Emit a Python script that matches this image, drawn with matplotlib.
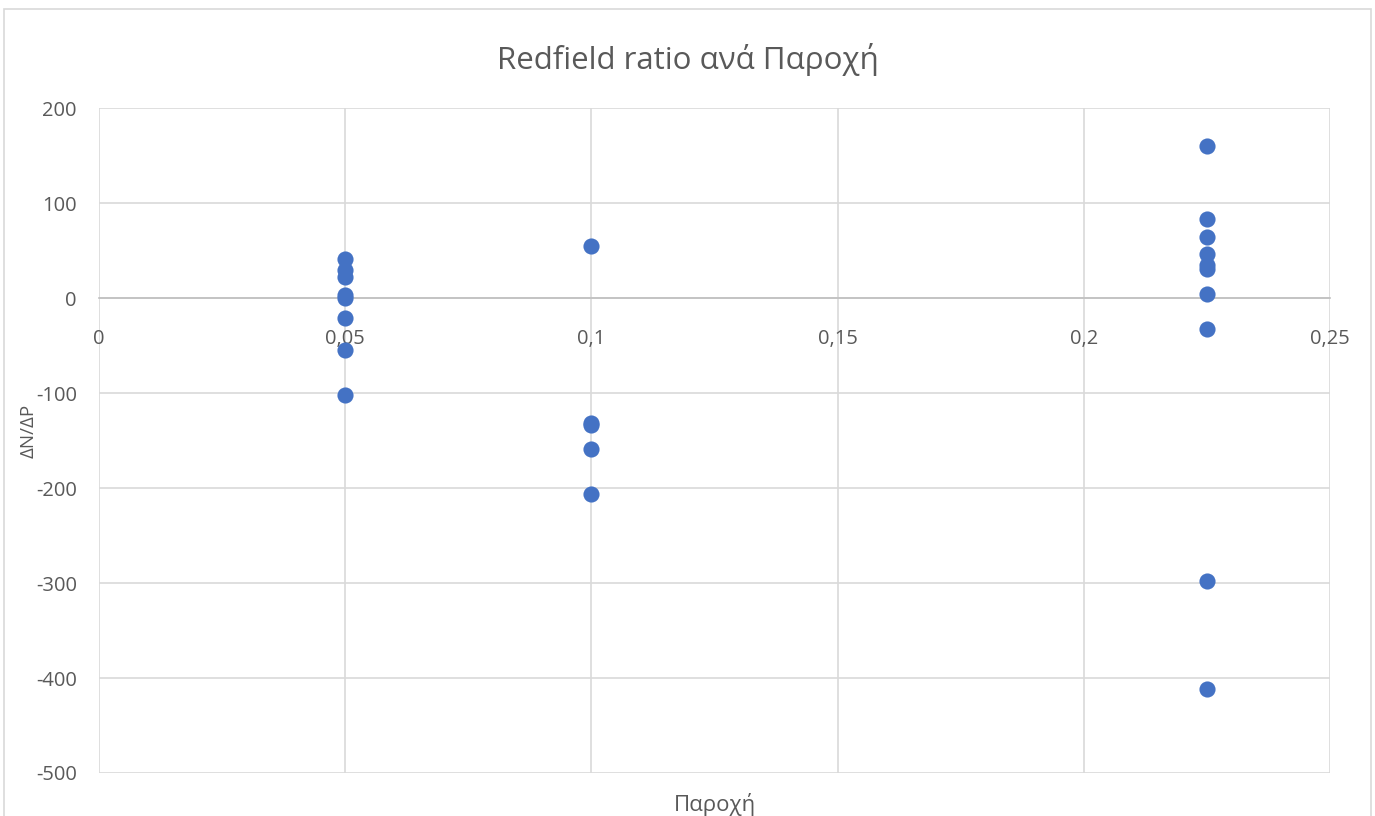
import matplotlib.pyplot as plt
from matplotlib.patches import Rectangle
from matplotlib.ticker import FuncFormatter

plt.rcParams['font.family'] = ['Open Sans', 'DejaVu Sans']

# Παροχή (x) και ΔN/ΔP (y) ανά σημείο δειγματοληψίας
flow_005 = [0.05] * 8
ratio_005 = [41, 30, 22, 3, 0, -21, -55, -102]

flow_010 = [0.1] * 5
ratio_010 = [55, -132, -134, -159, -206]

flow_0225 = [0.225] * 10
ratio_0225 = [160, 83, 64, 46, 35, 31, 4, -33, -298, -412]

x = flow_005 + flow_010 + flow_0225
y = ratio_005 + ratio_010 + ratio_0225

fig = plt.figure(figsize=(13.75, 8.16), dpi=100)
ax = fig.add_axes([0.072, 0.0527, 0.8953, 0.8149])

# chart border
fig.patches.append(Rectangle((0.003, -0.01), 0.994, 1 - 0.011 + 0.01,
                             transform=fig.transFigure, fill=False,
                             edgecolor='#d9d9d9', linewidth=1.2))

ax.scatter(x, y, s=135, color='#4472C4', zorder=3, linewidths=0)

ax.set_xlim(0, 0.25)
ax.set_ylim(-500, 200)
ax.set_xticks([0, 0.05, 0.1, 0.15, 0.2, 0.25])
ax.set_yticks(range(-500, 201, 100))

def comma(v, pos):
    s = f'{v:g}'
    return s.replace('.', ',')

ax.xaxis.set_major_formatter(FuncFormatter(comma))
ax.yaxis.set_major_formatter(FuncFormatter(lambda v, p: f'{int(v)}'))

ax.grid(True, color='#d9d9d9', linewidth=1.2, zorder=0)
for s in ['top', 'right', 'left']:
    ax.spines[s].set_visible(False)
ax.spines['bottom'].set_position(('data', 0))
ax.spines['bottom'].set_color('#bfbfbf')
ax.spines['bottom'].set_linewidth(1.2)
ax.tick_params(length=0, labelsize=14.5, labelcolor='#595959')
ax.tick_params(axis='x', pad=22)
ax.tick_params(axis='y', pad=16)

fig.text(0.5, 1 - 69 / 816, 'Redfield ratio ανά Παροχή', fontsize=22.5,
         color='#595959', ha='center', va='baseline')
ax.set_xlabel('Παροχή', fontsize=16, color='#595959')
ax.xaxis.set_label_coords(0.5, -0.03)
ax.set_ylabel('ΔN/ΔP', fontsize=13.5, color='#595959')
ax.yaxis.set_label_coords(-0.050, 0.515)

plt.savefig('out.png', dpi=100)
